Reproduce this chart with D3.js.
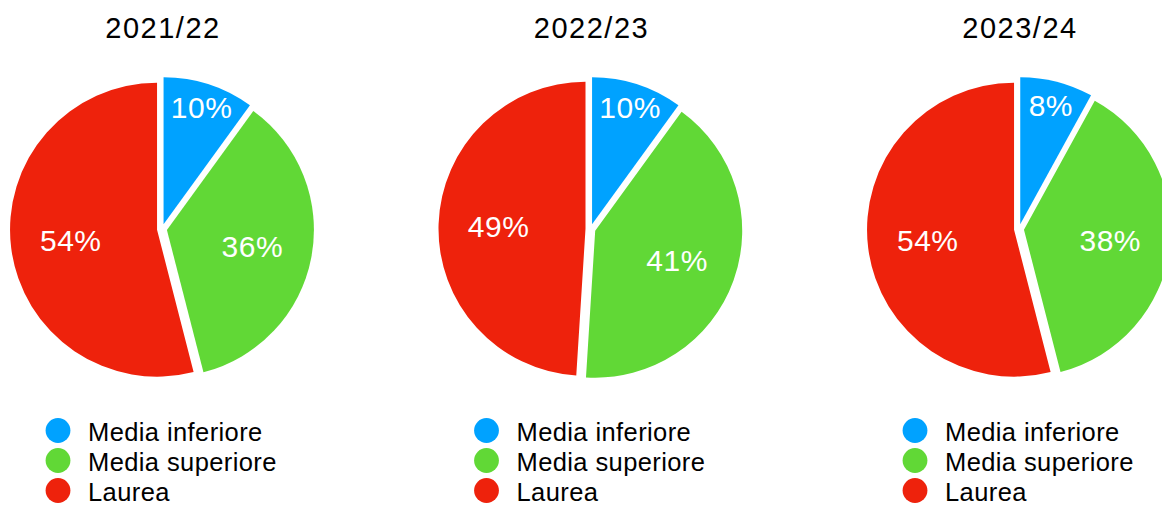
<!DOCTYPE html>
<html>
<head>
<meta charset="utf-8">
<script src="https://cdn.jsdelivr.net/npm/d3@7"></script>
<style>
  html, body { margin: 0; padding: 0; background: #fff; overflow: hidden; }
  svg { display: block; font-family: "Liberation Sans", Arial, Helvetica, sans-serif; }
</style>
</head>
<body>
<svg id="chart" width="1162" height="506"></svg>
<script>
const years = ["2021/22", "2022/23", "2023/24"];
const categories = ["Media inferiore", "Media superiore", "Laurea"];
const mediaInferiore = [10, 10, 8];
const mediaSuperiore = [36, 41, 38];
const laurea = [54, 49, 54];
const colors = ["#00A2FF", "#61D836", "#EE220C"];

const svg = d3.select("#chart");
const R = 147, explode = 5;

const xScale = d3.scalePoint().domain(years).range([162, 1019]);
const color = d3.scaleOrdinal().domain(categories).range(colors);

const pie = d3.pie().sort(null).value(d => d.value);
const arc = d3.arc().innerRadius(0).outerRadius(R);

years.forEach((yr, i) => {
  const cx = xScale(yr), cy = 229;
  const data = [
    { cat: categories[0], value: mediaInferiore[i] },
    { cat: categories[1], value: mediaSuperiore[i] },
    { cat: categories[2], value: laurea[i] }
  ];
  const g = svg.append("g").attr("transform", `translate(${cx},${cy})`);

  svg.append("text")
    .attr("x", cx + 1).attr("y", 38)
    .attr("text-anchor", "middle")
    .attr("font-size", 29)
    .attr("letter-spacing", 1.5)
    .attr("fill", "#000")
    .text(yr);

  const arcs = pie(data);
  g.selectAll("path.slice").data(arcs).enter().append("path")
    .attr("class", "slice")
    .attr("fill", d => color(d.data.cat))
    .attr("transform", d => {
      const m = (d.startAngle + d.endAngle) / 2;
      return `translate(${Math.sin(m) * explode},${-Math.cos(m) * explode})`;
    })
    .attr("d", arc);

  const lblR = d => (d.data.value < 15 ? 128 : 92);
  g.selectAll("text.lbl").data(arcs).enter().append("text")
    .attr("class", "lbl")
    .attr("text-anchor", "middle")
    .attr("dominant-baseline", "central")
    .attr("font-size", 30)
    .attr("letter-spacing", 0.5)
    .attr("fill", "#fff")
    .attr("x", d => Math.sin((d.startAngle + d.endAngle) / 2) * lblR(d))
    .attr("y", d => -Math.cos((d.startAngle + d.endAngle) / 2) * lblR(d))
    .text(d => d.data.value + "%");

  const lg = svg.append("g").attr("transform", `translate(${cx - 104},430.5)`);
  categories.forEach((c, j) => {
    lg.append("circle")
      .attr("cx", 0).attr("cy", j * 30)
      .attr("r", 12.4)
      .attr("fill", color(c));
    lg.append("text")
      .attr("x", 30).attr("y", j * 30 + 10)
      .attr("font-size", 25.5)
      .attr("letter-spacing", 0.4)
      .attr("fill", "#000")
      .text(c);
  });
});
</script>
</body>
</html>
